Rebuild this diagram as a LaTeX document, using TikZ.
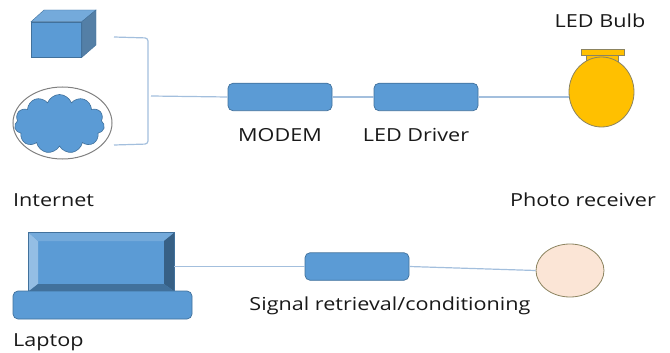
\documentclass[tikz,border=0pt]{standalone}
\usepackage{fontspec}
\setmainfont[FakeStretch=1.2]{Open Sans}
\usetikzlibrary{arrows.meta,positioning,shapes.geometric,shapes.symbols}
\definecolor{boxblue}{HTML}{5B9BD5}
\definecolor{boxline}{HTML}{41719C}
\definecolor{wire}{HTML}{A3BFDD}
\definecolor{bulbfill}{HTML}{FFC000}
\definecolor{bulbline}{HTML}{8C8460}
\definecolor{peach}{HTML}{FBE5D6}

\begin{document}
\begin{tikzpicture}[
  x=1pt, y=-1pt,
  font=\fontsize{18}{21}\selectfont,
  unit/.style={rectangle, rounded corners=5pt, draw=boxline, fill=boxblue, line width=0.7pt,
               minimum width=104pt, minimum height=27.5pt, inner sep=0pt},
  wirelink/.style={draw=wire, line width=1.2pt},
  lbl/.style={text=black!90, inner sep=0pt},
  flat/.style={draw=boxline, line width=0.7pt, fill=boxblue},
  bulbpart/.style={draw=bulbline, line width=0.8pt, fill=bulbfill, inner sep=0pt},
]
\useasboundingbox (0,0) rectangle (670,353);

% top row: server cube and internet cloud, joined by the bracket
\node[rectangle, flat, minimum width=50pt, minimum height=35pt, inner sep=0pt] (cube) at (56.5,39.5) {};
\fill[boxblue!85!white, draw=boxline, line width=0.4pt] (cube.north west) -- (44,10) -- (96,10) -- (cube.north east) -- cycle;
\fill[boxline!90!white, draw=boxline, line width=0.4pt] (cube.north east) -- (96,10) -- (96,45) -- (cube.south east) -- cycle;

\node[ellipse, draw=black!50, line width=1pt, minimum width=99pt, minimum height=72pt, inner sep=0pt] (inetring) at (62.5,123) {};
\node[cloud, cloud puffs=11, cloud puff arc=140, aspect=1.45, draw=boxline, fill=boxblue, line width=0.6pt,
      minimum width=90pt, minimum height=59pt, inner sep=0pt] (cloud) at (59.5,124) {};

\coordinate (brtop) at (114,37);
\coordinate (brbot) at (114,145);
\coordinate (brmid) at (151,96);
\draw[wirelink, rounded corners=3pt] (brtop) -- (148,38) -- (148,144) -- (brbot);

\node[unit] (modem) at (280,97) {};
\node[unit] (driver) at (426,97) {};

% the bulb: cap and neck go first so the glass sits over them
\node[rectangle, bulbpart, minimum width=32pt, minimum height=8pt] (neck) at (602,58) {};
\node[rectangle, bulbpart, minimum width=43pt, minimum height=6pt] (cap) at (602.5,52) {};
\node[ellipse, bulbpart, minimum width=65pt, minimum height=70pt] (bulb) at (601.5,92) {};

\draw[wirelink] (brmid) -- (modem.west);
\draw[wirelink] (modem.east) -- (driver.west);
\draw[wirelink] (driver.east) -- (bulb.west |- driver.east);

% bottom row: laptop, conditioning block, photo receiver
\node[rectangle, flat, minimum width=145pt, minimum height=58pt, inner sep=0pt] (screen) at (101.5,262) {};
\fill[boxblue!65!white] (screen.north west) -- (38,241) -- (38,284) -- (screen.south west) -- cycle;
\fill[boxblue!85!white] (screen.north west) -- (screen.north east) -- (164,241) -- (38,241) -- cycle;
\fill[boxline!85!black] (screen.north east) -- (screen.south east) -- (164,284) -- (164,241) -- cycle;
\fill[boxline] (screen.south west) -- (screen.south east) -- (164,284) -- (38,284) -- cycle;
\draw[boxline, line width=0.7pt] (screen.north west) rectangle (screen.south east);
\node[unit, minimum width=179pt, minimum height=28pt] (base) at (102.5,305) {};

\node[unit] (retrieval) at (357,266.5) {};
\node[ellipse, draw=bulbline, fill=peach, line width=0.8pt, minimum width=68pt, minimum height=53pt, inner sep=0pt] (receiver) at (570,270.5) {};

\draw[wirelink] (screen.east |- retrieval.west) -- (retrieval.west);
\draw[wirelink] (retrieval.east) -- (receiver.west);

\node[lbl, anchor=west] (internetlbl) at (13,200) {Internet};
\node[lbl] (modemlbl) at (280,135) {MODEM};
\node[lbl] (driverlbl) at (416,135) {LED Driver};
\node[lbl] (bulblbl) at (600,21) {LED Bulb};
\node[lbl] (receiverlbl) at (583,200) {Photo receiver};
\node[lbl] (retrievallbl) at (390,306) {Signal retrieval/conditioning};
\node[lbl, anchor=west] (laptoplbl) at (13,342) {Laptop};

\end{tikzpicture}
\end{document}
